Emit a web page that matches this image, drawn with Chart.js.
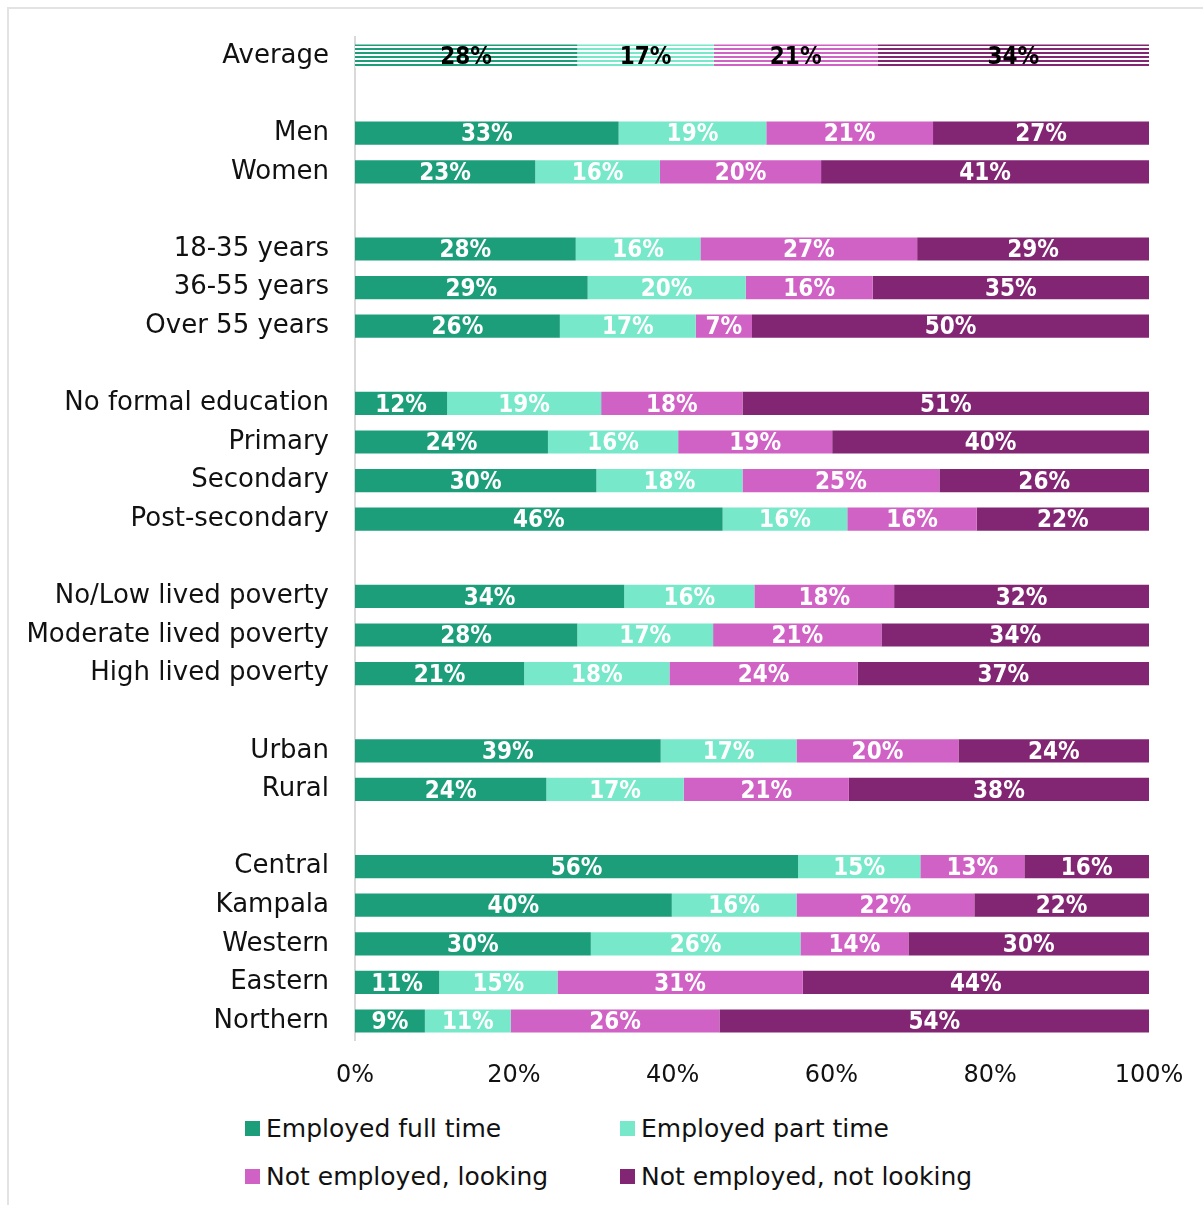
<!DOCTYPE html>
<html>
<head>
<meta charset="utf-8">
<script src="https://cdn.jsdelivr.net/npm/chart.js@4"></script>
<style>
  body { margin: 0; background: #fff; font-family: "DejaVu Sans", sans-serif; }
  #wrap { position: relative; width: 1203px; height: 1205px; overflow: hidden; }
  #frame { position: absolute; left: 7px; top: 7px; width: 1300px; height: 1300px;
           border-left: 2px solid #e3e3e3; border-top: 2px solid #e3e3e3; }
  #chartBox { position: absolute; left: 0; top: 0; width: 1203px; height: 1100px; }
  .leg { position: absolute; font-size: 25px; color: #111; white-space: nowrap; line-height: 30px; }
  .leg i { display: inline-block; width: 15px; height: 15px; margin-right: 6px; vertical-align: 1px; }
</style>
</head>
<body>
<div id="wrap">
  <div id="frame"></div>
  <div id="chartBox"><canvas id="employmentChart" width="1203" height="1100"></canvas></div>
  <div id="legend"></div>
</div>
<script>
// rows, blank labels are the gaps between groups
const categories = ['Average', '', 'Men', 'Women', '', '18-35 years', '36-55 years', 'Over 55 years', '',
    'No formal education', 'Primary', 'Secondary', 'Post-secondary', '',
    'No/Low lived poverty', 'Moderate lived poverty', 'High lived poverty', '',
    'Urban', 'Rural', '', 'Central', 'Kampala', 'Western', 'Eastern', 'Northern'];

const seriesNames = ['Employed full time', 'Employed part time', 'Not employed, looking', 'Not employed, not looking'];
const seriesColors = ['#1c9e7a', '#77e8c9', '#d062c5', '#822674'];

const fullTime   = [28.0, null, 33.2, 22.7, null, 27.8, 29.3, 25.8, null, 11.6, 24.3, 30.4, 46.3, null, 33.9, 28.0, 21.3, null, 38.5, 24.1, null, 55.8, 39.9, 29.7, 10.6, 8.8];
const partTime   = [17.2, null, 18.6, 15.7, null, 15.7, 19.9, 17.1, null, 19.4, 16.4, 18.4, 15.7, null, 16.4, 17.1, 18.3, null, 17.1, 17.3, null, 15.4, 15.7, 26.4, 14.9, 10.8];
const looking    = [20.6, null, 21.0, 20.3, null, 27.3, 16.0, 7.1, null, 17.8, 19.4, 24.8, 16.3, null, 17.6, 21.2, 23.7, null, 20.4, 20.8, null, 13.1, 22.4, 13.6, 30.9, 26.3];
const notLooking = [34.2, null, 27.2, 41.3, null, 29.2, 34.8, 50.0, null, 51.2, 39.9, 26.4, 21.7, null, 32.1, 33.7, 36.7, null, 24.0, 37.8, null, 15.7, 22.0, 30.3, 43.6, 54.1];

const xTicks = [0, 20, 40, 60, 80, 100];

// striped fill used for the Average row
function stripes(color) {
    const c = document.createElement('canvas');
    c.width = 8; c.height = 4;
    const g = c.getContext('2d');
    g.fillStyle = '#ffffff';
    g.fillRect(0, 0, 8, 4);
    g.fillStyle = color;
    g.fillRect(0, 0, 8, 2);
    return g.createPattern(c, 'repeat');
}

const allSeries = [fullTime, partTime, looking, notLooking];
const datasets = allSeries.map((vals, i) => {
    const pat = stripes(seriesColors[i]);
    return {
        label: seriesNames[i],
        data: vals,
        backgroundColor: ctx => ctx.dataIndex === 0 ? pat : seriesColors[i],
        borderWidth: 0,
        barPercentage: 0.6,
        categoryPercentage: 1.0
    };
});

const barLabels = {
    id: 'barLabels',
    afterDatasetsDraw(chart) {
        const ctx = chart.ctx;
        ctx.save();
        ctx.font = 'bold 24px "DejaVu Sans Condensed", "DejaVu Sans", sans-serif';
        ctx.textAlign = 'center';
        ctx.textBaseline = 'middle';
        chart.data.datasets.forEach((ds, di) => {
            chart.getDatasetMeta(di).data.forEach((bar, idx) => {
                const v = ds.data[idx];
                if (v == null) return;
                const p = bar.getCenterPoint();
                ctx.fillStyle = idx === 0 ? '#000000' : '#ffffff';
                ctx.fillText(Math.round(v) + '%', p.x, p.y + 2);
            });
        });
        ctx.restore();
    }
};

new Chart(document.getElementById('employmentChart').getContext('2d'), {
    type: 'bar',
    data: { labels: categories, datasets: datasets },
    options: {
        indexAxis: 'y',
        responsive: false,
        animation: false,
        layout: { padding: { top: 36.7, right: 54, bottom: 0, left: 0 } },
        plugins: { legend: { display: false }, tooltip: { enabled: false } },
        scales: {
            x: {
                stacked: true,
                min: 0,
                max: 100,
                afterBuildTicks: s => { s.ticks = xTicks.map(v => ({ value: v })); },
                afterFit: s => { s.height = 59.7; s.paddingLeft = 0; s.paddingRight = 0; },
                grid: { display: false, drawTicks: false },
                border: { display: false },
                ticks: {
                    padding: 21,
                    color: '#111',
                    font: { size: 24, family: '"DejaVu Sans", sans-serif' },
                    callback: v => v + '%'
                }
            },
            y: {
                stacked: true,
                afterFit: s => { s.width = 355; s.paddingTop = 0; s.paddingBottom = 0; },
                grid: { display: false, drawTicks: false },
                border: { display: true, color: '#d9d9d9', width: 2 },
                ticks: {
                    padding: 26,
                    autoSkip: false,
                    color: '#111',
                    font: { size: 26, family: '"DejaVu Sans", sans-serif' }
                }
            }
        }
    },
    plugins: [barLabels]
});

// legend in two columns
const legendPos = [[245, 1114], [620, 1114], [245, 1162], [620, 1162]];
const legendBox = document.getElementById('legend');
seriesNames.forEach((name, i) => {
    const d = document.createElement('div');
    d.className = 'leg';
    d.style.left = legendPos[i][0] + 'px';
    d.style.top = legendPos[i][1] + 'px';
    d.innerHTML = '<i style="background:' + seriesColors[i] + '"></i>' + name;
    legendBox.appendChild(d);
});
</script>
</body>
</html>
